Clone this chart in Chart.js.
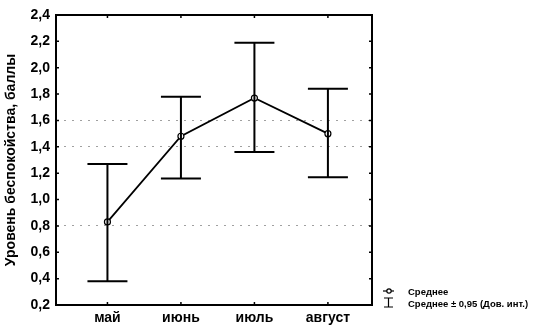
<!DOCTYPE html>
<html>
<head>
<meta charset="utf-8">
<script src="https://cdn.jsdelivr.net/npm/chart.js@4"></script>
<style>
    html, body { margin: 0; padding: 0; background: #fff; }
    #wrap { width: 536px; height: 328px; }
</style>
</head>
<body>
<div id="wrap"><canvas id="chart"></canvas></div>
<script>
// months on the x axis
const months = ["май", "июнь", "июль", "август"];
// mean score and the 0,95 confidence limits
const means = [0.83, 1.48, 1.77, 1.50];
const upper = [1.27, 1.78, 2.19, 1.84];
const lower = [0.38, 1.16, 1.36, 1.17];
const yTicks = [0.2, 0.4, 0.6, 0.8, 1.0, 1.2, 1.4, 1.6, 1.8, 2.0, 2.2, 2.4];
const dottedAt = [0.8, 1.4, 1.6];
const legendLabels = ["Среднее", "Среднее ± 0,95 (Дов. инт.)"];
const yTitle = "Уровень беспокойства, баллы";

const fontFamily = "'Liberation Sans', Arial, sans-serif";

let errorBars = {
    id: "errorBars",
    afterDatasetsDraw: (chart)=>{
        let ctx = chart.ctx;
        let x = chart.scales.x, y = chart.scales.y;
        ctx.save();
        ctx.strokeStyle = "#000";
        ctx.lineWidth = 2;
        for(let i=0; i<months.length; i++){
            let px = x.getPixelForValue(i+1);
            let top = y.getPixelForValue(upper[i]);
            let bot = y.getPixelForValue(lower[i]);
            ctx.beginPath();
            ctx.moveTo(px, top); ctx.lineTo(px, bot);
            ctx.moveTo(px-20, top); ctx.lineTo(px+20, top);
            ctx.moveTo(px-20, bot); ctx.lineTo(px+20, bot);
            ctx.stroke();
        }
        ctx.restore();
    }
};

let frame = {
    id: "frame",
    afterDraw: (chart)=>{
        let ctx = chart.ctx;
        let a = chart.chartArea;
        let x = chart.scales.x, y = chart.scales.y;
        ctx.save();
        ctx.strokeStyle = "#000";
        ctx.lineWidth = 2;
        ctx.strokeRect(a.left, a.top, a.right-a.left, a.bottom-a.top);
        ctx.lineWidth = 1.5;
        ctx.beginPath();
        yTicks.forEach((v)=>{
            let py = y.getPixelForValue(v);
            ctx.moveTo(a.left, py); ctx.lineTo(a.left+3, py);
            ctx.moveTo(a.right, py); ctx.lineTo(a.right-3, py);
        });
        months.forEach((m, i)=>{
            let px = x.getPixelForValue(i+1);
            ctx.moveTo(px, a.bottom); ctx.lineTo(px, a.bottom-3);
            ctx.moveTo(px, a.top); ctx.lineTo(px, a.top+3);
        });
        ctx.stroke();

        // legend
        let lx = a.right + 11;
        let ly = [291, 303];
        ctx.lineWidth = 1.2;
        ctx.beginPath();
        ctx.moveTo(lx, ly[0]); ctx.lineTo(lx+11, ly[0]);
        ctx.stroke();
        ctx.beginPath();
        ctx.arc(lx+6, ly[0], 2.2, 0, Math.PI*2);
        ctx.fillStyle = "#fff";
        ctx.fill();
        ctx.stroke();
        ctx.beginPath();
        ctx.moveTo(lx+1, ly[1]-5); ctx.lineTo(lx+10, ly[1]-5);
        ctx.moveTo(lx+5.5, ly[1]-5); ctx.lineTo(lx+5.5, ly[1]+4);
        ctx.moveTo(lx+1, ly[1]+4); ctx.lineTo(lx+10, ly[1]+4);
        ctx.stroke();
        ctx.fillStyle = "#000";
        ctx.font = `bold 9.5px ${fontFamily}`;
        ctx.textBaseline = "middle";
        legendLabels.forEach((t, i)=>ctx.fillText(t, lx+25, ly[i]+1));
        ctx.restore();
    }
};

new Chart(document.getElementById("chart"), {
    type: "line",
    data: {
        datasets: [{
            label: legendLabels[0],
            data: means.map((v, i)=>({x: i+1, y: v})),
            borderColor: "#000",
            borderWidth: 1.8,
            backgroundColor: "#fff",
            pointBackgroundColor: "#fff",
            pointBorderColor: "#000",
            pointBorderWidth: 1.2,
            pointRadius: 3,
            tension: 0,
        }]
    },
    options: {
        responsive: true,
        maintainAspectRatio: false,
        animation: false,
        events: [],
        layout: {padding: {top: 15, right: 164, bottom: 0, left: 0}},
        plugins: {legend: {display: false}, tooltip: {enabled: false}},
        scales: {
            x: {
                type: "linear",
                min: 0.3, max: 4.6,
                afterBuildTicks: (s)=>{ s.ticks = months.map((m, i)=>({value: i+1})); },
                afterFit: (s)=>{ s.height = 23; },
                grid: {display: false, drawTicks: false},
                border: {display: false},
                ticks: {
                    padding: 5,
                    color: "#000",
                    font: {family: fontFamily, size: 14, weight: "bold"},
                    callback: (v)=>months[v-1],
                }
            },
            y: {
                min: 0.2, max: 2.4,
                afterBuildTicks: (s)=>{ s.ticks = yTicks.map((v)=>({value: v})); },
                afterFit: (s)=>{ s.width = 56; },
                grid: {
                    drawTicks: false,
                    lineWidth: 1,
                    color: (c)=>(dottedAt.some((d)=>Math.abs(d-c.tick.value)<1e-6) ? "#a0a0a0" : "rgba(0,0,0,0)"),
                },
                border: {display: false, dash: [2, 6]},
                ticks: {
                    padding: 6,
                    color: "#000",
                    font: {family: fontFamily, size: 14, weight: "bold"},
                    callback: (v)=>v.toFixed(1).replace(".", ","),
                },
                title: {
                    display: true,
                    text: yTitle,
                    color: "#000",
                    padding: {top: 3, bottom: 0},
                    font: {family: fontFamily, size: 14, weight: "bold"},
                }
            }
        }
    },
    plugins: [errorBars, frame]
});
</script>
</body>
</html>
